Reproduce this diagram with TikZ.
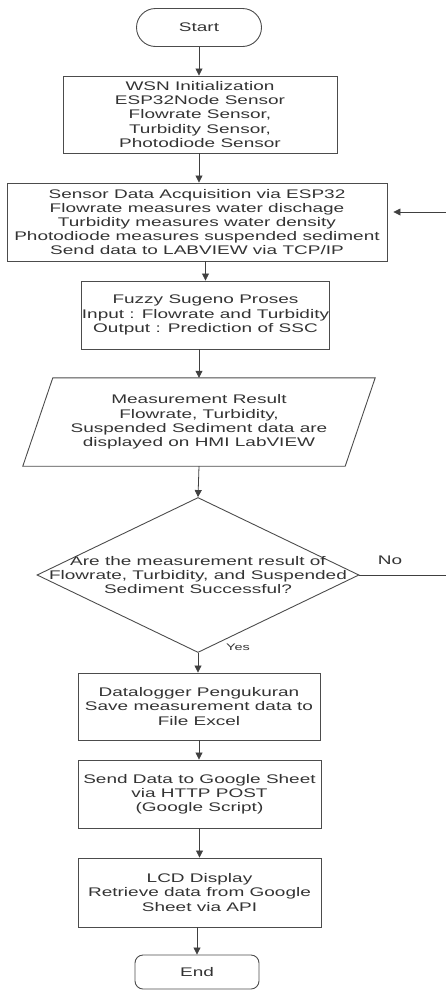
\documentclass[tikz,border=0pt]{standalone}
\usepackage{fontspec}
\setmainfont{Liberation Sans}[FakeStretch=1.52]
\usetikzlibrary{shapes.geometric,arrows.meta}

\begin{document}
\begin{tikzpicture}[x=1pt,y=-1pt,
    every node/.style={font=\fontsize{12.5}{14.2}\selectfont, text=black!80, align=center, inner sep=0pt},
    proc/.style={draw=black!70, line width=0.9pt, minimum width=243pt, minimum height=68pt},
    term/.style={draw=black!70, line width=0.9pt, minimum width=125pt, minimum height=38pt},
    decide/.style={draw=black!70, line width=0.9pt, diamond, minimum width=322pt, minimum height=155pt},
    flow/.style={draw=black!75, line width=0.8pt, -{Triangle[length=7pt,width=7pt]}},
    plainline/.style={draw=black!75, line width=0.8pt}]
    \useasboundingbox (0,0) rectangle (446,991);

    % Terminals and process boxes
    \node[term, rounded corners=19pt] (start) at (199,27.5) {Start};
    \node[proc, minimum width=274pt, minimum height=77pt] (wsn) at (200,114.5)
        {WSN Initialization\\ESP32Node Sensor\\Flowrate Sensor,\\Turbidity Sensor,\\Photodiode Sensor};
    \node[proc, minimum width=380pt, minimum height=78pt] (sensor) at (197,222)
        {Sensor Data Acquisition via ESP32\\Flowrate measures water dischage\\Turbidity measures water density\\Photodiode measures suspended sediment\\Send data to LABVIEW via TCP/IP};
    \node[proc, minimum width=245pt] (fuzzy) at (205.5,315)
        {Fuzzy Sugeno Proses\\Input : Flowrate and Turbidity\\Output : Prediction of SSC};

    % Data display (parallelogram)
    \node[minimum width=292pt, minimum height=88pt] (disp) at (199,422)
        {Measurement Result\\Flowrate, Turbidity,\\Suspended Sediment data are\\displayed on HMI LabVIEW};
    \draw[draw=black!70, line width=0.9pt] ([xshift=-30pt]disp.south west) -- (disp.north west)
        -- ([xshift=30pt]disp.north east) -- (disp.south east) -- cycle;

    % Decision
    \node[decide] (dec) at (198,575) {};
    \node (dectext) at (dec.center)
        {Are the measurement result of\\Flowrate, Turbidity, and Suspended\\Sediment Successful?};

    \node[proc, minimum width=242pt, minimum height=67pt] (dlog) at (199,706.5)
        {Datalogger Pengukuran\\Save measurement data to\\File Excel};
    \node[proc] (gsheet) at (199.5,794)
        {Send Data to Google Sheet\\via HTTP POST\\(Google Script)};
    \node[proc, minimum height=69pt] (lcd) at (199.5,892.5)
        {LCD Display\\Retrieve data from Google\\Sheet via API};
    \node[term, minimum width=124pt, minimum height=34pt, rounded corners=8pt] (end) at (197,972) {End};

    % Labels
    \node (no) at (390,560) {No};
    \node[font=\fontsize{9.5}{11}\selectfont] (yes) at (238,647) {Yes};

    % Connectors
    \draw[flow] (start.south) -- (start.south |- wsn.north);
    \draw[flow] (wsn.south -| start) -- (sensor.north -| start);
    \draw[flow] (sensor.south -| fuzzy) -- (fuzzy.north);
    \draw[flow] (fuzzy.south -| disp) -- (disp.north);
    \draw[flow] (disp.south) -- (dec.north);
    \draw[flow] (dec.south) -- (dec.south |- dlog.north);
    \draw[flow] (dlog.south) -- (dlog.south |- gsheet.north);
    \draw[flow] (gsheet.south) -- (lcd.north);
    \draw[flow] (lcd.south -| end) -- (end.north);

    % Loop back on failure
    \coordinate (noend) at (446,575);
    \coordinate (back) at (446,212);
    \draw[plainline] (dec.east) -- (noend);
    \draw[flow, shorten >=6pt] (back) -- (sensor.east |- back);
\end{tikzpicture}
\end{document}
